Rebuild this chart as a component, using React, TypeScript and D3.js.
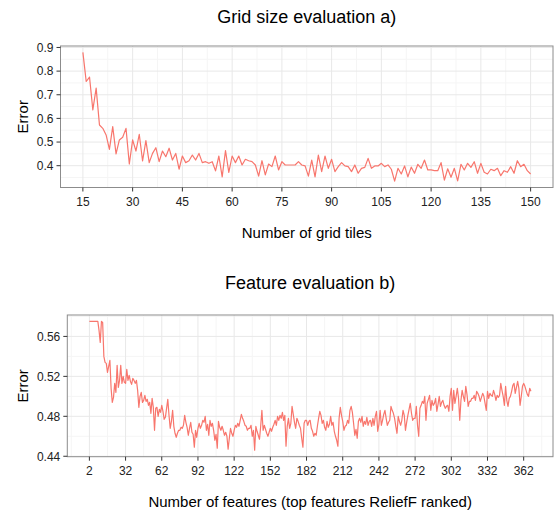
import * as d3 from "d3";

// ---- data: grid size evaluation (a) ----
const gridTiles = d3.range(15, 151);
const gridError = [
  0.879, 0.756, 0.775, 0.636, 0.728, 0.572, 0.558, 0.53, 0.469, 0.565,
  0.45, 0.509, 0.52, 0.558, 0.407, 0.509, 0.462, 0.533, 0.42, 0.506,
  0.413, 0.452, 0.476, 0.417, 0.462, 0.438, 0.474, 0.424, 0.452, 0.385,
  0.441, 0.413, 0.421, 0.445, 0.424, 0.452, 0.413, 0.417, 0.41, 0.417,
  0.378, 0.441, 0.353, 0.464, 0.372, 0.441, 0.413, 0.441, 0.403, 0.427,
  0.421, 0.417, 0.403, 0.356, 0.421, 0.361, 0.407, 0.396, 0.441, 0.382,
  0.417, 0.403, 0.403, 0.403, 0.403, 0.417, 0.403, 0.399, 0.356, 0.424,
  0.353, 0.445, 0.375, 0.441, 0.389, 0.427, 0.375, 0.396, 0.413, 0.399,
  0.396, 0.375, 0.403, 0.368, 0.389, 0.393, 0.431, 0.389, 0.399, 0.399,
  0.41, 0.396, 0.403, 0.385, 0.335, 0.389, 0.365, 0.399, 0.353, 0.394,
  0.368, 0.406, 0.389, 0.424, 0.382, 0.382, 0.379, 0.379, 0.413, 0.339,
  0.387, 0.351, 0.389, 0.336, 0.406, 0.382, 0.41, 0.393, 0.417, 0.368,
  0.41, 0.372, 0.365, 0.385, 0.379, 0.389, 0.358, 0.379, 0.372, 0.396,
  0.368, 0.421, 0.396, 0.406, 0.379, 0.365,
];
const gridXTicks = [15, 30, 45, 60, 75, 90, 105, 120, 135, 150];
const gridYTicks = [0.4, 0.5, 0.6, 0.7, 0.8, 0.9];

// ---- data: feature evaluation (b) ----
const featureError = [
  0.575, 0.575, 0.575, 0.575, 0.575, 0.575, 0.575, 0.575, 0.566, 0.554,
  0.575, 0.574, 0.54, 0.534, 0.533, 0.524, 0.53, 0.536, 0.508, 0.494,
  0.499, 0.513, 0.504, 0.531, 0.509, 0.516, 0.531, 0.513, 0.52, 0.514,
  0.513, 0.527, 0.516, 0.521, 0.515, 0.512, 0.518, 0.516, 0.513, 0.516,
  0.506, 0.489, 0.5, 0.504, 0.494, 0.496, 0.501, 0.495, 0.497, 0.491,
  0.494, 0.483, 0.498, 0.489, 0.466, 0.488, 0.489, 0.48, 0.487, 0.484,
  0.491, 0.485, 0.477, 0.479, 0.488, 0.497, 0.481, 0.468, 0.475, 0.486,
  0.47, 0.463, 0.459, 0.463, 0.466, 0.466, 0.469, 0.468, 0.471, 0.481,
  0.474, 0.469, 0.461, 0.468, 0.474, 0.464, 0.462, 0.449, 0.466, 0.459,
  0.468, 0.473, 0.468, 0.471, 0.476, 0.474, 0.48, 0.466, 0.472, 0.461,
  0.476, 0.47, 0.473, 0.466, 0.456, 0.462, 0.448, 0.475, 0.469, 0.466,
  0.47, 0.466, 0.461, 0.464, 0.46, 0.447, 0.458, 0.468, 0.463, 0.46,
  0.466, 0.471, 0.469, 0.473, 0.47, 0.476, 0.482, 0.478, 0.475, 0.471,
  0.47, 0.466, 0.468, 0.468, 0.471, 0.46, 0.466, 0.446, 0.47, 0.465,
  0.461, 0.457, 0.47, 0.486, 0.466, 0.471, 0.467, 0.463, 0.46, 0.464,
  0.468, 0.465, 0.469, 0.472, 0.476, 0.471, 0.48, 0.476, 0.481, 0.478,
  0.484, 0.476, 0.481, 0.45, 0.47, 0.478, 0.468, 0.473, 0.49, 0.482,
  0.474, 0.468, 0.478, 0.475, 0.471, 0.468, 0.458, 0.449, 0.473, 0.476,
  0.476, 0.471, 0.475, 0.476, 0.468, 0.465, 0.46, 0.463, 0.461, 0.47,
  0.478, 0.485, 0.481, 0.473, 0.476, 0.469, 0.466, 0.475, 0.469, 0.472,
  0.48, 0.471, 0.474, 0.465, 0.46, 0.456, 0.45, 0.478, 0.489, 0.481,
  0.475, 0.466, 0.47, 0.471, 0.476, 0.473, 0.486, 0.49, 0.484, 0.473,
  0.461, 0.467, 0.458, 0.475, 0.478, 0.474, 0.48, 0.47, 0.475, 0.472,
  0.479, 0.471, 0.475, 0.476, 0.47, 0.478, 0.471, 0.48, 0.485, 0.465,
  0.472, 0.486, 0.471, 0.476, 0.482, 0.486, 0.478, 0.471, 0.474, 0.476,
  0.49, 0.486, 0.483, 0.478, 0.47, 0.463, 0.48, 0.475, 0.471, 0.476,
  0.486, 0.481, 0.466, 0.474, 0.481, 0.487, 0.493, 0.483, 0.476, 0.478,
  0.478, 0.49, 0.471, 0.46, 0.488, 0.491, 0.495, 0.493, 0.5, 0.476,
  0.493, 0.497, 0.501, 0.486, 0.496, 0.491, 0.493, 0.498, 0.485, 0.492,
  0.5, 0.49, 0.494, 0.496, 0.491, 0.488, 0.49, 0.491, 0.485, 0.5,
  0.508, 0.486, 0.506, 0.493, 0.5, 0.508, 0.498, 0.476, 0.496, 0.506,
  0.5, 0.495, 0.51, 0.502, 0.49, 0.495, 0.495, 0.498, 0.498, 0.501,
  0.496, 0.505, 0.503, 0.5, 0.495, 0.499, 0.503, 0.5, 0.493, 0.486,
  0.505, 0.498, 0.503, 0.501, 0.5, 0.506, 0.502, 0.496, 0.501, 0.499,
  0.501, 0.513, 0.506, 0.5, 0.491, 0.51, 0.496, 0.49, 0.498, 0.5,
  0.505, 0.511, 0.513, 0.503, 0.509, 0.515, 0.508, 0.491, 0.5, 0.51,
  0.513, 0.51, 0.506, 0.502, 0.5, 0.508, 0.505,
];
const featureCounts = d3.range(2, 2 + featureError.length);
const featureXTicks = [2, 32, 62, 92, 122, 152, 182, 212, 242, 272, 302, 332, 362];
const featureYTicks = [0.44, 0.48, 0.52, 0.56];

const FONT = "'Liberation Sans', Arial, Helvetica, sans-serif";
const LINE = "#F8766D";

// ggplot-style 5% expansion
const expand = (ext: [number, number]) => {
  const pad = (ext[1] - ext[0]) * 0.05;
  return [ext[0] - pad, ext[1] + pad];
};

type PanelProps = {
  xs: number[];
  ys: number[];
  xTicks: number[];
  yTicks: number[];
  yFmt: (v: number) => string;
  left: number;
  right: number;
  top: number;
  bottom: number;
  title: string;
  titleY: number;
  xLabel: string;
  xLabelY: number;
};

const Panel = (p: PanelProps) => {
  const x = d3.scaleLinear().domain(expand(d3.extent(p.xs) as [number, number])).range([p.left, p.right]);
  const y = d3.scaleLinear().domain(expand(d3.extent(p.ys) as [number, number])).range([p.bottom, p.top]);
  const [x0, x1] = x.domain();
  const [y0, y1] = y.domain();

  const xStep = p.xTicks[1] - p.xTicks[0];
  const yStep = p.yTicks[1] - p.yTicks[0];
  const xMinor = d3.range(p.xTicks[0] - xStep / 2, x1, xStep).filter((v) => v > x0 && v < x1);
  const yMinor = d3.range(p.yTicks[0] - yStep / 2, y1, yStep).filter((v) => v > y0 && v < y1);

  const line = d3
    .line<number>()
    .x((_, i) => x(p.xs[i]))
    .y((d) => y(d));

  const midX = (p.left + p.right) / 2;
  const midY = (p.top + p.bottom) / 2;

  return (
    <g fontFamily={FONT}>
      <rect x={p.left} y={p.top} width={p.right - p.left} height={p.bottom - p.top} fill="#fff" />
      {xMinor.map((v) => (
        <line key={"xm" + v} x1={x(v)} x2={x(v)} y1={p.top} y2={p.bottom} stroke="#F5F5F5" strokeWidth={1} />
      ))}
      {yMinor.map((v) => (
        <line key={"ym" + v} x1={p.left} x2={p.right} y1={y(v)} y2={y(v)} stroke="#F5F5F5" strokeWidth={1} />
      ))}
      {p.xTicks.map((v) => (
        <line key={"xg" + v} x1={x(v)} x2={x(v)} y1={p.top} y2={p.bottom} stroke="#E8E8E8" strokeWidth={1} />
      ))}
      {p.yTicks.map((v) => (
        <line key={"yg" + v} x1={p.left} x2={p.right} y1={y(v)} y2={y(v)} stroke="#E8E8E8" strokeWidth={1} />
      ))}
      <path d={line(p.ys) ?? ""} fill="none" stroke={LINE} strokeWidth={1.2} strokeLinejoin="round" />
      <rect
        x={p.left}
        y={p.top}
        width={p.right - p.left}
        height={p.bottom - p.top}
        fill="none"
        stroke="#8C8C8C"
        strokeWidth={1}
      />
      {p.xTicks.map((v) => (
        <g key={"xt" + v}>
          <line x1={x(v)} x2={x(v)} y1={p.bottom} y2={p.bottom + 4} stroke="#333" strokeWidth={1} />
          <text x={x(v)} y={p.bottom + 18} textAnchor="middle" fontSize={12} fill="#222">
            {v}
          </text>
        </g>
      ))}
      {p.yTicks.map((v) => (
        <g key={"yt" + v}>
          <line x1={p.left - 4} x2={p.left} y1={y(v)} y2={y(v)} stroke="#333" strokeWidth={1} />
          <text x={p.left - 7} y={y(v) + 4.3} textAnchor="end" fontSize={12} fill="#222">
            {p.yFmt(v)}
          </text>
        </g>
      ))}
      <text x={midX} y={p.titleY} textAnchor="middle" fontSize={18} fill="#000">
        {p.title}
      </text>
      <text x={midX} y={p.xLabelY} textAnchor="middle" fontSize={15} fill="#000">
        {p.xLabel}
      </text>
      <text
        transform={`translate(28,${midY}) rotate(-90)`}
        textAnchor="middle"
        fontSize={15}
        fill="#000"
      >
        Error
      </text>
    </g>
  );
};

export default function App() {
  return (
    <svg width={555} height={515} style={{ position: "absolute", left: 0, top: 0, background: "#fff" }}>
      <rect width={555} height={515} fill="#fff" />
      <Panel
        xs={gridTiles}
        ys={gridError}
        xTicks={gridXTicks}
        yTicks={gridYTicks}
        yFmt={d3.format(".1f")}
        left={60.5}
        right={553}
        top={46}
        bottom={187.5}
        title="Grid size evaluation a)"
        titleY={23}
        xLabel="Number of grid tiles"
        xLabelY={238}
      />
      <Panel
        xs={featureCounts}
        ys={featureError}
        xTicks={featureXTicks}
        yTicks={featureYTicks}
        yFmt={d3.format(".2f")}
        left={67.3}
        right={553}
        top={315}
        bottom={456.7}
        title="Feature evaluation b)"
        titleY={289}
        xLabel="Number of features (top features ReliefF ranked)"
        xLabelY={507}
      />
    </svg>
  );
}
